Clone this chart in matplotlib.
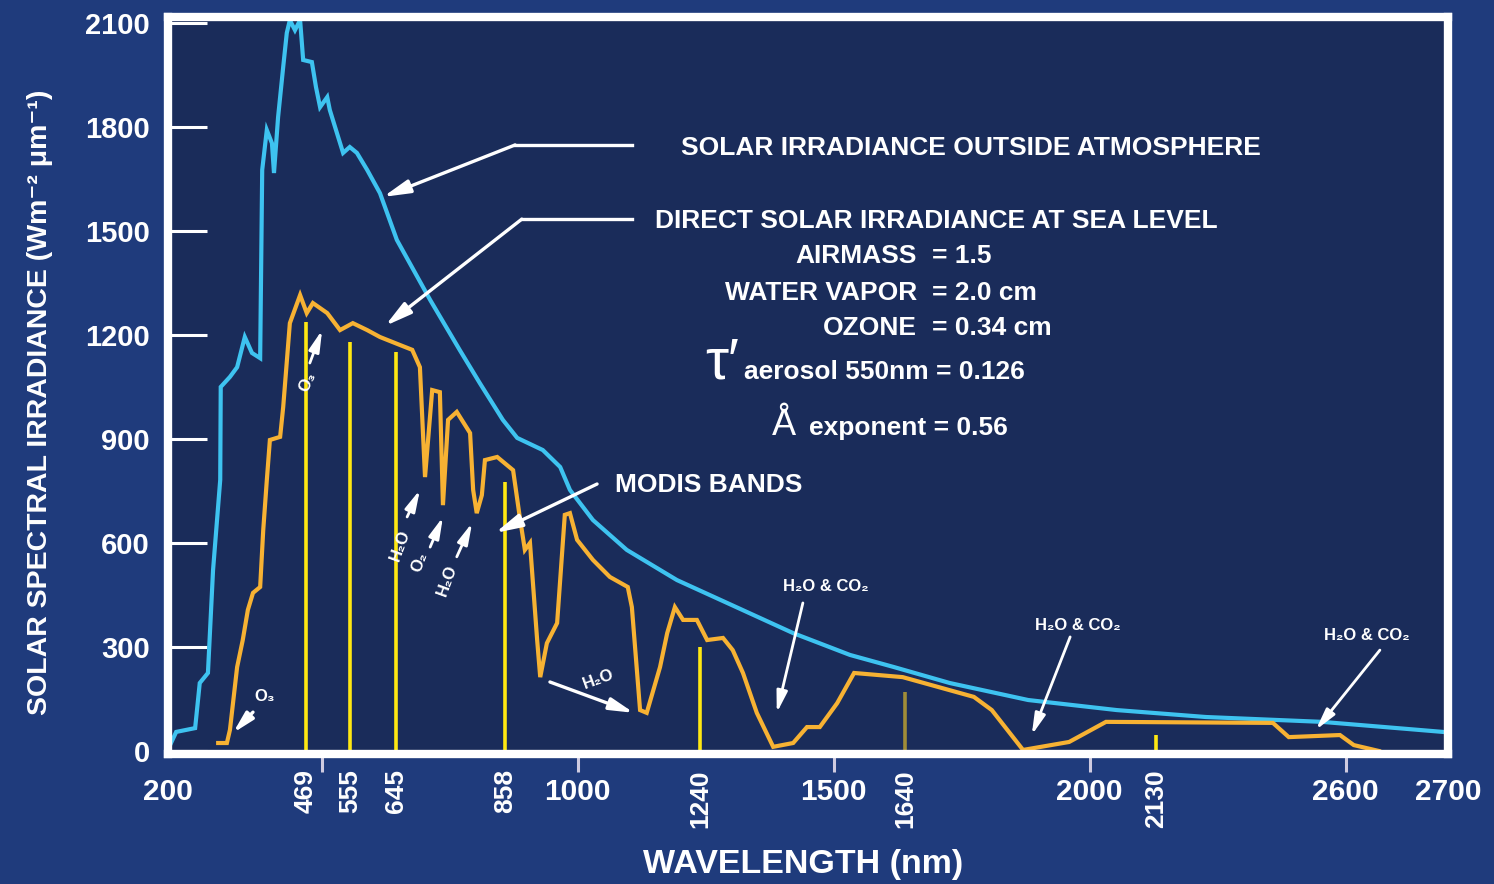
import matplotlib
matplotlib.use("Agg")
import matplotlib.pyplot as plt

plt.rcParams['font.family'] = ['Liberation Sans', 'DejaVu Sans']

# Solar irradiance outside the atmosphere (W m^-2 um^-1)
toa_nm = [204, 216, 253, 262, 278, 288, 302, 303, 321, 335, 350, 364, 380, 384,
          393, 403, 407, 415, 425, 432, 438, 448, 458, 464, 481, 489, 497, 511,
          516, 530, 542, 555, 569, 589, 614, 647, 712, 770, 809, 854, 882, 932,
          966, 985, 1030, 1096, 1194, 1292, 1421, 1532, 1618, 1727, 1880, 2053,
          2227, 2454, 2690]
toa_irr = [17, 55, 66, 196, 225, 522, 782, 1050, 1079, 1107, 1194, 1148, 1133,
           1676, 1791, 1753, 1667, 1828, 1973, 2071, 2108, 2079, 2108, 1993, 1987,
           1915, 1857, 1886, 1849, 1782, 1725, 1742, 1725, 1676, 1609, 1474, 1301,
           1156, 1061, 955, 903, 868, 819, 753, 666, 580, 493, 427, 340, 277, 242,
           196, 147, 118, 98, 84, 55]

# Direct solar irradiance at sea level
sea_nm = [298, 315, 321, 335, 346, 356, 366, 380, 386, 393, 399, 419, 425, 438,
          458, 471, 483, 511, 536, 561, 589, 614, 653, 677, 692, 702, 716, 731,
          737, 747, 764, 790, 796, 803, 813, 819, 843, 874, 887, 897, 907, 921,
          927, 940, 960, 975, 985, 999, 1030, 1063, 1098, 1106, 1122, 1135, 1161,
          1175, 1190, 1206, 1233, 1253, 1284, 1303, 1323, 1350, 1382, 1421, 1448,
          1473, 1507, 1540, 1635, 1774, 1809, 1870, 1960, 2032, 2358, 2389, 2489,
          2516, 2565]
sea_irr = [23, 23, 61, 242, 320, 407, 456, 473, 637, 781, 897, 906, 992, 1234,
           1315, 1263, 1292, 1263, 1214, 1234, 1214, 1194, 1171, 1157, 1107, 790,
           1041, 1035, 709, 955, 978, 917, 753, 686, 738, 839, 848, 810, 675, 580,
           600, 320, 213, 311, 369, 681, 686, 609, 551, 502, 473, 415, 118, 110,
           242, 340, 415, 378, 378, 320, 326, 291, 225, 110, 12, 23, 69, 69, 138,
           225, 213, 156, 118, 3, 26, 84, 81, 40, 46, 17, 0]

# MODIS band centres (nm) and the height of each band marker
band_nm = [469, 555, 645, 858, 1240, 1640, 2130]
band_top = [1237, 1180, 1151, 776, 300, 170, 46]

y_ticks = [0, 300, 600, 900, 1200, 1500, 1800, 2100]
x_ticks = [200, 500, 1000, 1500, 2000, 2500, 2700]
x_tick_labels = ['200', '', '1000', '1500', '2000', '2600', '2700']

FIG_BG = '#1f3b7c'
AX_BG = '#1a2c5a'
BLUE = '#3ec3f0'
ORANGE = '#f7b233'
YELLOW = '#ffe812'
OLIVE = '#a08c38'
WHITE = 'white'

fig = plt.figure(figsize=(14.94, 8.84), dpi=100, facecolor=FIG_BG)
ax = fig.add_axes([0.11245, 0.14706, 0.85676, 0.83371], facecolor=AX_BG)

ax.set_xlim(200, 2700)
ax.set_ylim(-8.7, 2117)

# band markers
band_colors = [YELLOW] * len(band_nm)
band_colors[band_nm.index(1640)] = OLIVE
ax.vlines(band_nm, 0, band_top, colors=band_colors, linewidth=2.6, zorder=2)

# spectra
ax.plot(toa_nm, toa_irr, color=BLUE, linewidth=3.0, solid_joinstyle='miter', zorder=3)
ax.plot(sea_nm, sea_irr, color=ORANGE, linewidth=3.0, solid_joinstyle='miter', zorder=4)

# frame
for sp in ax.spines.values():
    sp.set_color(WHITE)
    sp.set_linewidth(6)
    sp.set_zorder(6)

# y axis
ax.set_yticks(y_ticks)
ax.set_yticklabels([str(v) for v in y_ticks])
ax.tick_params(axis='y', direction='in', length=28, width=2.2, color=WHITE,
               pad=13, labelsize=21, labelcolor=WHITE)
for lab in ax.get_yticklabels():
    lab.set_fontweight('bold')

# x axis: main ticks plus rotated band labels
ax.set_xticks(x_ticks)
ax.set_xticklabels(x_tick_labels)
ax.tick_params(axis='x', which='major', direction='out', length=13, width=2.2,
               color='#cfcbe0', pad=4, labelsize=21.5, labelcolor=WHITE)
for lab in ax.get_xticklabels():
    lab.set_fontweight('bold')
major = ax.xaxis.get_major_ticks()
major[0].tick1line.set_visible(False)
major[-1].tick1line.set_visible(False)

ax.set_xticks(band_nm, minor=True)
ax.set_xticklabels([str(b) for b in band_nm], minor=True, rotation=90,
                   fontsize=19, fontweight='bold', color=WHITE)
ax.tick_params(axis='x', which='minor', length=0, pad=11)

ax.set_xlabel('WAVELENGTH (nm)', fontsize=24.5, fontweight='bold', color=WHITE,
              va='center')
ax.xaxis.set_label_coords(0.496, -0.1506)
ax.set_ylabel('SOLAR SPECTRAL IRRADIANCE (Wm⁻² μm⁻¹)', fontsize=20.5,
              fontweight='bold', color=WHITE, va='center')
ax.yaxis.set_label_coords(-0.1, 0.4776)


def arrow(tail, tip, lw=2.4, scale=20):
    ax.annotate('', xy=tip, xytext=tail,
                arrowprops=dict(arrowstyle='-|>,head_length=0.8,head_width=0.2',
                                color=WHITE, lw=lw, mutation_scale=scale,
                                shrinkA=0, shrinkB=0),
                zorder=5)


txt = dict(color=WHITE, fontweight='bold', zorder=5)

# curve labels with elbow pointers
ax.text(1202, 1719, 'SOLAR IRRADIANCE OUTSIDE ATMOSPHERE', fontsize=19,
        ha='left', va='baseline', **txt)
ax.plot([1106, 878], [1748, 1748], color=WHITE, lw=2.4, zorder=5)
arrow((878, 1748), (620, 1598))

ax.text(1151, 1508, 'DIRECT SOLAR IRRADIANCE AT SEA LEVEL', fontsize=19,
        ha='left', va='baseline', **txt)
ax.plot([1106, 891], [1534, 1534], color=WHITE, lw=2.4, zorder=5)
arrow((891, 1534), (624, 1226))

# atmospheric conditions
for key, val, base in [('AIRMASS', '= 1.5', 1407),
                       ('WATER VAPOR', '= 2.0 cm', 1301),
                       ('OZONE', '= 0.34 cm', 1200)]:
    ax.text(1663, base, key, fontsize=19, ha='right', va='baseline', **txt)
    ax.text(1692, base, val, fontsize=19, ha='left', va='baseline', **txt)

ax.text(1249, 1073, 'τ′', fontsize=42, ha='left', va='baseline', color=WHITE,
        zorder=5)
ax.text(1325, 1073, 'aerosol 550nm = 0.126', fontsize=19, ha='left',
        va='baseline', **txt)
ax.text(1380, 911, 'Å', fontsize=26, ha='left', va='baseline', color=WHITE,
        zorder=5)
ax.text(1452, 911, 'exponent = 0.56', fontsize=19, ha='left', va='baseline', **txt)

ax.text(1073, 747, 'MODIS BANDS', fontsize=19, ha='left', va='baseline', **txt)
arrow((1038, 770), (839, 629))

# absorption features
small = dict(fontsize=12, ha='center', **txt)
ax.text(1485, 461, 'H₂O & CO₂', va='baseline', **small)
arrow((1440, 427), (1389, 110), lw=2.0, scale=16)
ax.text(1977, 349, 'H₂O & CO₂', va='baseline', **small)
arrow((1962, 329), (1887, 46), lw=2.0, scale=16)
ax.text(2542, 320, 'H₂O & CO₂', va='baseline', **small)
arrow((2567, 291), (2442, 61), lw=2.0, scale=16)

ax.text(1040, 208, 'H₂O', va='center', rotation=20, rotation_mode='anchor', **small)
arrow((946, 199), (1110, 110), lw=2.4, scale=18)

ax.text(389, 156, 'O₃', va='center', **small)
arrow((366, 112), (327, 52), lw=2.4, scale=16)
ax.text(473, 1064, 'O₃', va='center', rotation=65, rotation_mode='anchor', **small)
arrow((477, 1119), (501, 1214), lw=2.0, scale=16)

ax.text(653, 594, 'H₂O', va='center', rotation=70, rotation_mode='anchor', **small)
arrow((667, 675), (692, 753), lw=2.0, scale=16)
ax.text(692, 545, 'O₂', va='center', rotation=70, rotation_mode='anchor', **small)
arrow((712, 588), (737, 675), lw=2.0, scale=16)
ax.text(745, 493, 'H₂O', va='center', rotation=70, rotation_mode='anchor', **small)
arrow((764, 560), (794, 658), lw=2.0, scale=16)

fig.savefig('out.png', dpi=100, facecolor=FIG_BG)
